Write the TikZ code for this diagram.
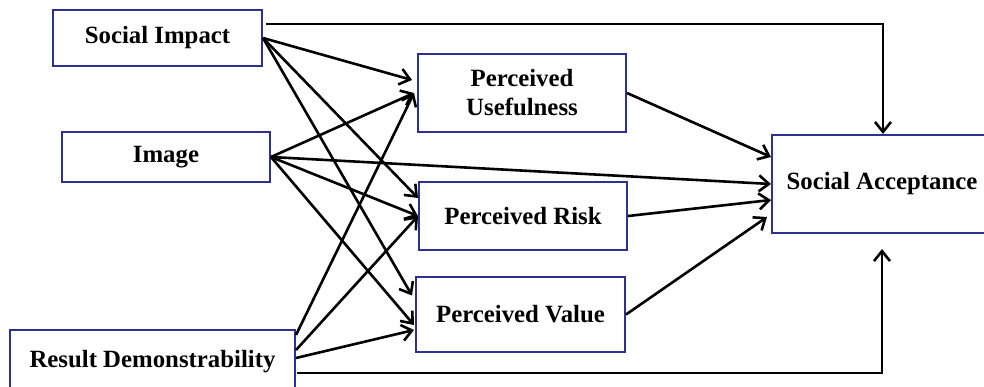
\documentclass[tikz,border=0pt]{standalone}
\usepackage{fontspec}
\setmainfont{Liberation Serif}
\usepackage{xcolor}
\usetikzlibrary{arrows.meta,calc}
\definecolor{boxblue}{RGB}{46,49,146}

\begin{document}
\begin{tikzpicture}[x=0.5pt, y=-0.5pt,
  box/.style={draw=boxblue, line width=1pt, fill=white, align=center, inner sep=0pt,
    font=\fontsize{12.4}{14.5}\selectfont\bfseries},
  arr/.style={line width=1.3pt, -{Straight Barb[length=5pt,width=8pt]}}]
\useasboundingbox (0,0) rectangle (984,386);
% factors
\node[box, minimum width=104.5pt, minimum height=28pt] (si) at (157.5,38) {Social Impact};
\node[box, minimum width=104pt, minimum height=25pt] (im) at (166,157) {Image};
\node[box, minimum width=142.5pt, minimum height=32pt] (rd) at (152.5,362) {Result Demonstrability};
% perceptions
\node[box, minimum width=104pt, minimum height=39pt] (pu) at (522,93) {Perceived\\Usefulness};
\node[box, minimum width=104pt, minimum height=34pt] (pr) at (523,216) {Perceived Risk};
\node[box, minimum width=104.5pt, minimum height=37.5pt] (pv) at (520.5,314.5) {Perceived Value};
% outcome
\node[box, minimum width=110pt, minimum height=49pt] (sa) at (882,184) {Social Acceptance};

\draw[arr] (si.east) -- ($(pu.west)+(-5,-13)$);
\draw[arr] (si.east) -- ($(pr.west)+(0,-18)$);
\draw[arr] (si.east) -- ($(pv.west)+(-3,-19)$);
\draw[arr] ($(si.east)+(3,-14)$) -| ($(sa.north)+(1,0)$);

\draw[arr] (im.east) -- ($(pu.west)+(-3,0)$);
\draw[arr] (im.east) -- (pr.west);
\draw[arr] (im.east) -- ($(pv.west)+(-1,10.5)$);
\draw[arr] (im.east) -- (sa.west);

\draw[arr] ($(rd.east)+(0,-27)$) -- ($(pu.west)+(-3,0)$);
\draw[arr] ($(rd.east)+(0,-12)$) -- (pr.west);
\draw[arr] ($(rd.east)+(0,-4)$) -- ($(pv.west)+(-1,15.5)$);
\draw[arr] ($(rd.east)+(1,11)$) -| ($(sa.south)+(0,15)$);

\draw[arr] (pu.east) -- ($(sa.west)+(0,-27)$);
\draw[arr] (pr.east) -- ($(sa.west)+(0,16)$);
\draw[arr] (pv.east) -- ($(sa.west)+(-4,33)$);
\end{tikzpicture}
\end{document}
